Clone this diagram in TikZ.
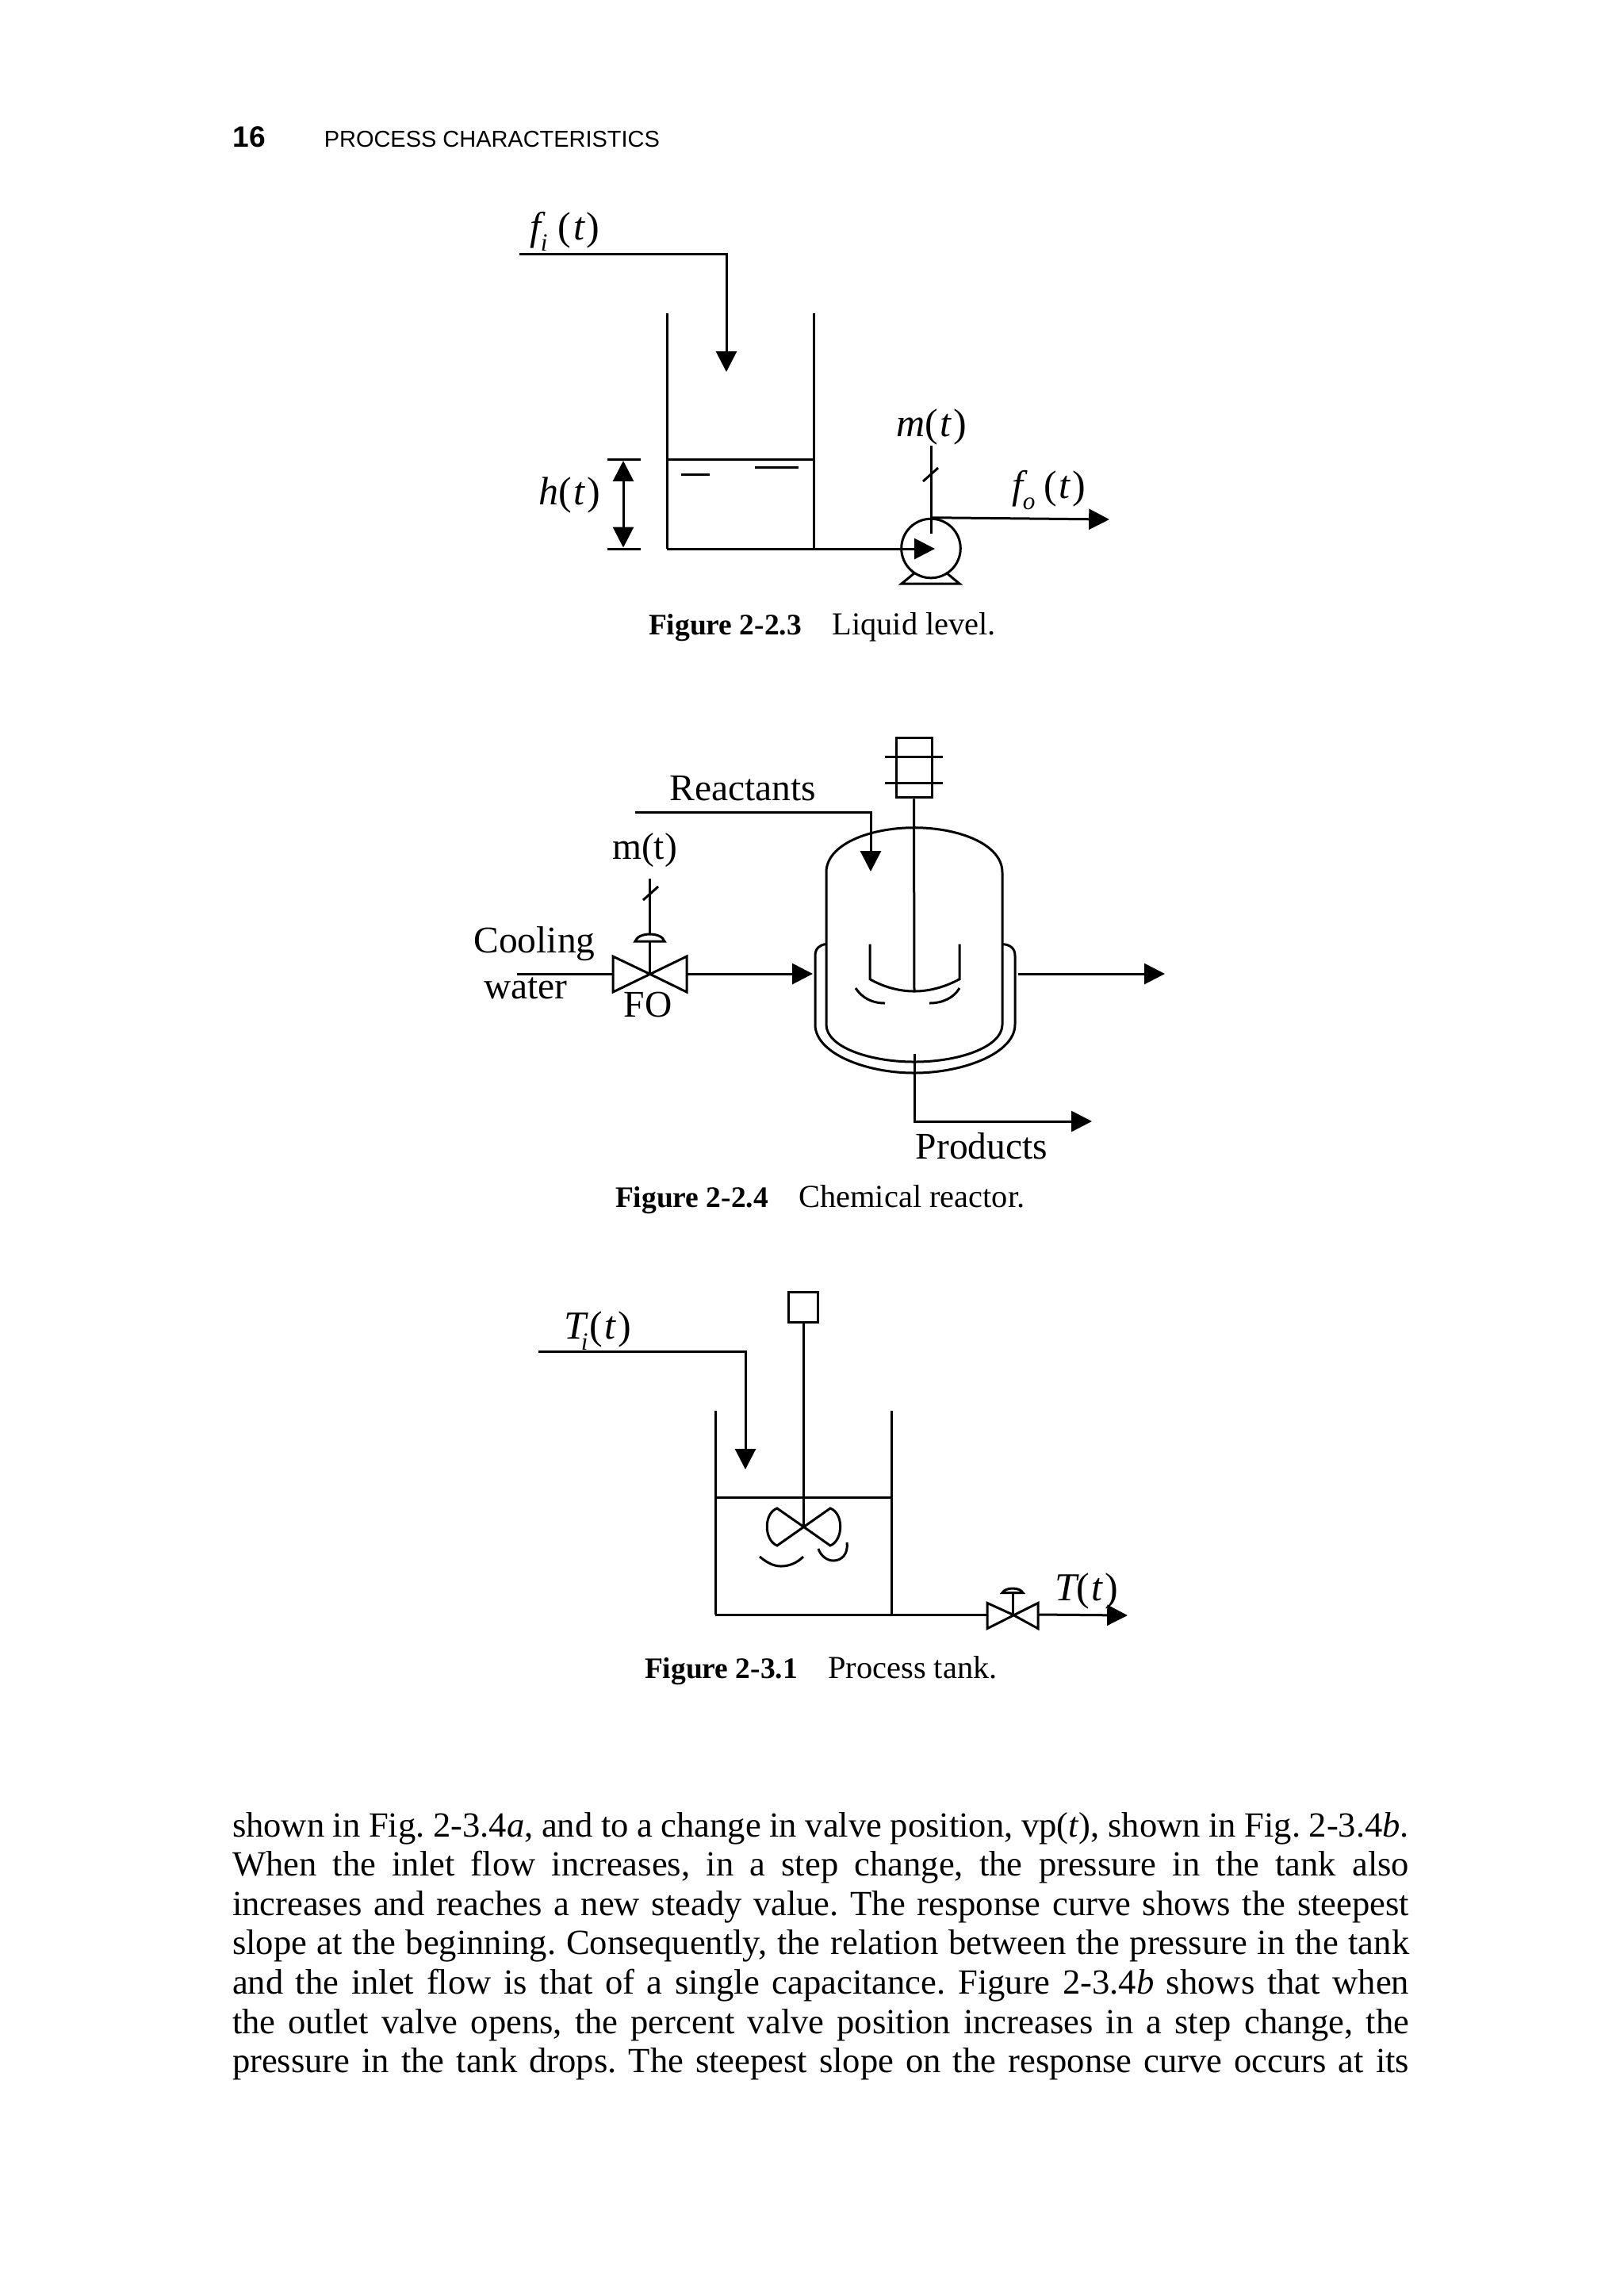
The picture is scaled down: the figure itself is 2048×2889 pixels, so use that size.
\documentclass[tikz,border=0pt]{standalone}
\usepackage{fontspec}
\setmainfont{Liberation Serif}
\newfontfamily\hdrfont{Liberation Sans}
\usetikzlibrary{arrows.meta}
\frenchspacing
\newcommand{\bline}[2]{\node[bodyline] (#1) at (293,\bodyy) {\makebox[356.2pt][s]{#2}};}
\newcommand{\sbs}[1]{\raisebox{-.28em}{\fontsize{7.5}{8}\selectfont\itshape #1}}
\newcommand{\argt}{\upshape(\hspace{.05em}\itshape t\hspace{.06em}\upshape)}
\tikzset{
  x=0.24pt,y=-0.24pt,
  pipe/.style={line width=0.72pt,line cap=butt,line join=miter},
  flow/.style={pipe,-{Triangle[length=6.2pt,width=6.2pt]}},
  both/.style={pipe,{Triangle[length=6.2pt,width=6.2pt]}-{Triangle[length=6.2pt,width=6.2pt]}},
  lbl/.style={anchor=base west,inner sep=0pt,outer sep=0pt,font=\fontsize{12}{14}\selectfont},
  lblc/.style={anchor=base,inner sep=0pt,outer sep=0pt,font=\fontsize{11.4}{14}\selectfont},
  figcap/.style={anchor=base west,inner sep=0pt,outer sep=0pt,font=\fontsize{9.7}{11}\selectfont},
  bodyline/.style={anchor=base west,inner sep=0pt,outer sep=0pt,font=\fontsize{10.7}{12}\selectfont},
  pumpbody/.style={circle,draw,line width=0.72pt,inner sep=0pt,minimum size=17.9pt},
  box/.style={draw,line width=0.72pt,inner sep=0pt},
}
\newcommand{\figlab}[1]{{\fontsize{9}{11}\selectfont\bfseries #1}}
\begin{document}
\begin{tikzpicture}
\useasboundingbox (0,0) rectangle (2048,2889);
\fill[white] (0,0) rectangle (2048,2889);
% header
\node[anchor=base west,inner sep=0pt,font=\hdrfont\bfseries\fontsize{8.9}{10}\selectfont] (pageno) at (293,185) {16};
\node[anchor=base west,inner sep=0pt,font=\hdrfont\fontsize{6.95}{8}\selectfont] (running) at (408,185) {PROCESS CHARACTERISTICS};

% ---------- Figure 2-2.3
\coordinate (a1) at (655,320); \coordinate (a2) at (916,320); \coordinate (a3) at (916,469);
\draw[flow] (a1) -- (a2) -- (a3);
\coordinate (tl) at (841,395); \coordinate (tr) at (1026,395);
\coordinate (bl) at (841,692); \coordinate (br) at (1026,692);
\draw[pipe] (tl) -- (bl); \draw[pipe] (tr) -- (br);
\draw[pipe] (841,579.5) coordinate (lv1) -- (1026,579.5) coordinate (lv2);
\draw[pipe] (859,598.6) -- (895,598.6);
\draw[pipe] (952,589.4) -- (1007,589.4);
\coordinate (h1a) at (766,579.5); \coordinate (h1b) at (808,579.5);
\coordinate (h2a) at (766,692); \coordinate (h2b) at (808,692);
\draw[pipe] (h1a) -- (h1b); \draw[pipe] (h2a) -- (h2b);
\draw[both] (786,581) -- (786,690.5);
\node[pumpbody] (pump) at (1174,691.5) {};
\coordinate (ptip) at (1179,692);
\draw[flow] (bl) -- (ptip);
\coordinate (ptop) at (1174,562); \coordinate (pin) at (1174,672.5);
\draw[pipe] (ptop) -- (pin);
\draw[pipe] (1164,607) -- (1183,590);
\coordinate (fo) at (1399,655);
\draw[flow] (pump.north) -- (fo);
\draw[pipe,line join=miter] (1154,722) -- (1137,736) -- (1210,736) -- (1193,722);
\node[lbl] (lfi) at (668,302) {\itshape f\sbs{i}\,\hspace{.1em}\argt};
\node[lbl] (lh) at (679,636) {\itshape h\argt};
\node[lbl] (lm) at (1130,550) {\itshape m\argt};
\node[lbl] (lfo) at (1276,628) {\itshape f\sbs{o}\,\hspace{.05em}\argt};
\node[figcap] (c1) at (818,800) {\figlab{Figure 2-2.3}\hspace{.95em}Liquid level.};

% ---------- Figure 2-2.4
\node[box,minimum width=10.8pt,minimum height=18pt] (motor) at (1152.5,968.3) {};
\draw[pipe] (1116,954) -- (1189,954);
\draw[pipe] (1116,987) -- (1189,987);
\coordinate (hub) at (1153,1250);
\draw[pipe] (motor.south) -- (hub);
\coordinate (r1) at (801,1024); \coordinate (r2) at (1098,1024); \coordinate (r3) at (1098,1099);
\draw[flow] (r1) -- (r2) -- (r3);
% vessel
\draw[pipe] (1042,1292) -- (1042,1100) .. controls (1042,1065) and (1096,1043.7) .. (1153,1043.7)
  .. controls (1210,1043.7) and (1264,1065) .. (1264,1100) -- (1264,1292)
  .. controls (1264,1320) and (1210,1339) .. (1153,1339)
  .. controls (1096,1339) and (1042,1320) .. (1042,1292);
% jacket
\draw[pipe] (1042,1190.6) .. controls (1034,1191) and (1028,1196) .. (1028,1205) -- (1028,1292)
  .. controls (1028,1328) and (1091,1353) .. (1153,1353)
  .. controls (1215,1353) and (1280,1328) .. (1280,1292) -- (1280,1205)
  .. controls (1280,1196) and (1274,1191) .. (1264,1190.6);
% impeller
\draw[pipe] (1097,1190.6) -- (1097,1234.7) .. controls (1113,1244) and (1133,1250) .. (hub)
  .. controls (1173,1250) and (1193,1244) .. (1210,1234.7) -- (1210,1190.6);
\draw[pipe] (1079,1246) .. controls (1087,1258) and (1099,1265) .. (1116,1265);
\draw[pipe] (1210,1246) .. controls (1203,1258) and (1189,1265) .. (1172,1265);
% product
\coordinate (p1) at (1153,1329.4); \coordinate (p2) at (1153,1414); \coordinate (p3) at (1377,1414);
\draw[flow] (p1) -- (p2) -- (p3);
% valve
\coordinate (v) at (819,1228);
\draw[pipe,line join=miter] (v) -- (773,1206) -- (773,1251) -- (866,1206) -- (866,1251) -- cycle;
\coordinate (vs) at (819,1108);
\draw[pipe] (vs) -- (v);
\draw[pipe] (811,1135) -- (830,1118);
\draw[pipe,fill=white] (801,1187) .. controls (803,1181) and (811,1178) .. (819.5,1178)
   .. controls (828,1178) and (836,1181) .. (838,1187) -- cycle;
\coordinate (w1) at (652,1228); \coordinate (w2) at (773,1228);
\coordinate (w3) at (866,1228); \coordinate (w4) at (1025,1228);
\coordinate (w5) at (1284,1228); \coordinate (w6) at (1469,1228);
\draw[pipe] (w1) -- (w2);
\draw[flow] (w3) -- (w4);
\draw[flow] (w5) -- (w6);
\node[lblc] (lr) at (937,1009) {Reactants};
\node[lblc] (lm2) at (813,1083) {m(t)};
\node[lblc] (lcool) at (674,1201) {Cooling};
\node[lblc] (lwater) at (663,1259) {water};
\node[lblc] (lfoo) at (817,1282) {FO};
\node[lblc] (lprod) at (1238,1461) {Products};
\node[figcap] (c2) at (776,1522.5) {\figlab{Figure 2-2.4}\hspace{.95em}Chemical reactor.};

% ---------- Figure 2-3.1
\node[box,minimum width=9.1pt,minimum height=9pt] (mbox) at (1013,1648.3) {};
\coordinate (imp) at (1013,1925);
\draw[pipe] (mbox.south) -- (imp);
\coordinate (i1) at (679,1704); \coordinate (i2) at (940,1704); \coordinate (i3) at (940,1853);
\draw[flow] (i1) -- (i2) -- (i3);
\coordinate (t3l) at (902,1778.6); \coordinate (t3r) at (1124,1778.6);
\coordinate (b3l) at (902,2036); \coordinate (b3r) at (1124,2036);
\draw[pipe] (t3l) -- (b3l); \draw[pipe] (t3r) -- (b3r);
\draw[pipe] (902,1888) -- (1124,1888);
\draw[pipe] (imp) -- (980,1902) .. controls (963,1908) and (963,1942) .. (980,1949) -- (1047,1902)
  .. controls (1064,1908) and (1064,1942) .. (1047,1949) -- cycle;
\draw[pipe] (958,1963) .. controls (969,1972) and (977,1975) .. (985,1975) .. controls (995,1975) and (1005,1971) .. (1013,1963);
\draw[pipe] (1032,1953) .. controls (1035,1962) and (1043,1968) .. (1051,1968) .. controls (1061,1968) and (1070,1960) .. (1068,1945);
\coordinate (v3) at (1277,2036);
\coordinate (v3l) at (1245,2036); \coordinate (v3r) at (1309,2036);
\draw[pipe,line join=miter] (v3) -- (1245,2021.4) -- (1245,2053.6) -- (1309,2021.4) -- (1309,2053.6) -- cycle;
\coordinate (v3s) at (1277,2009);
\draw[pipe] (v3s) -- (v3);
\draw[pipe,fill=white] (1264,2008.5) .. controls (1266,2005) and (1271,2003) .. (1277,2003)
  .. controls (1283,2003) and (1288,2005) .. (1290,2008.5) -- cycle;
\draw[pipe] (b3l) -- (v3l);
\coordinate (o3) at (1422,2037);
\draw[flow] (v3r) -- (o3);
\node[lbl] (lti) at (711,1688) {\itshape T\kern-.12em\sbs{i}\kern.04em\argt};
\node[lbl] (lt) at (1330,2018) {\itshape T\argt};
\node[figcap] (c3) at (813,2116.5) {\figlab{Figure 2-3.1}\hspace{.95em}Process tank.};

% ---------- Body text
\def\bodyy{2316}\bline{b1}{shown in Fig. 2-3.4\textit{a}, and to a change in valve position, vp(\textit{t}), shown in Fig. 2-3.4\textit{b}.}
\def\bodyy{2365.6}\bline{b2}{When the inlet flow increases, in a step change, the pressure in the tank also}
\def\bodyy{2415.2}\bline{b3}{increases and reaches a new steady value. The response curve shows the steepest}
\def\bodyy{2464.8}\bline{b4}{slope at the beginning. Consequently, the relation between the pressure in the tank}
\def\bodyy{2514.4}\bline{b5}{and the inlet flow is that of a single capacitance. Figure 2-3.4\textit{b} shows that when}
\def\bodyy{2564}\bline{b6}{the outlet valve opens, the percent valve position increases in a step change, the}
\def\bodyy{2613.6}\bline{b7}{pressure in the tank drops. The steepest slope on the response curve occurs at its}
\end{tikzpicture}
\end{document}
